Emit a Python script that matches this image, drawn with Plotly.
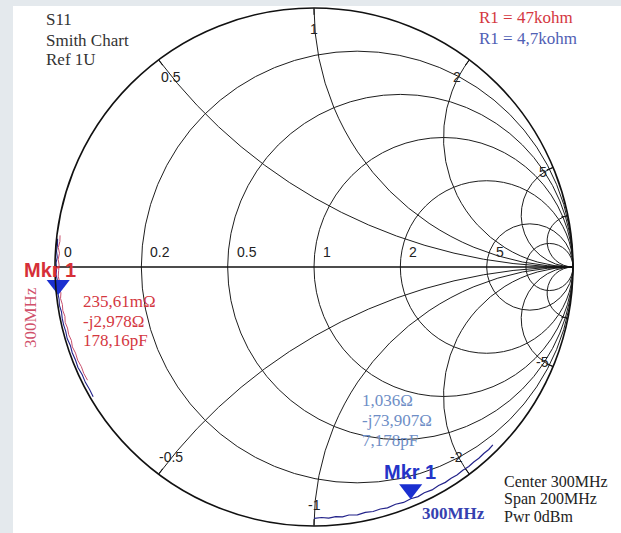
import plotly.graph_objects as go

W, H = 621, 533

# ---------------- data ----------------
# Smith-chart grid values (normalised impedance)
real_grid = [0.2, 0.5, 1, 2, 5, 10]
imag_grid = [-10, -5, -2, -1, -0.5, 0.5, 1, 2, 5, 10]
real_labels = [0, 0.2, 0.5, 1, 2, 5]
imag_labels = [0.5, 1, 2, 5, -5, -2, -1, -0.5]

red_imag = [0.062, 0.050, 0.038, 0.027, 0.015, 0.004, -0.007, -0.018, -0.029, -0.040,
            -0.051, -0.062, -0.074, -0.086, -0.098, -0.110, -0.122, -0.135, -0.148,
            -0.161, -0.175, -0.190, -0.205, -0.220, -0.236]
red_real = [0.006, 0.007, 0.005, 0.008, 0.006, 0.008, 0.007, 0.006, 0.008, 0.006,
            0.009, 0.007, 0.009, 0.008, 0.010, 0.008, 0.010, 0.009, 0.011, 0.009,
            0.011, 0.010, 0.012, 0.011, 0.012]

# overlapping dark-blue copy along the left rim
blueL_imag = [0.055, 0.043, 0.031, 0.019, 0.008, -0.004, -0.015, -0.027, -0.039, -0.051,
              -0.063, -0.075, -0.088, -0.101, -0.114, -0.128, -0.142, -0.157, -0.172,
              -0.188, -0.204, -0.221, -0.238, -0.255, -0.272]
blueL_real = [0.002, 0.003, 0.002, 0.004, 0.002, 0.003, 0.002, 0.004, 0.003, 0.003,
              0.004, 0.003, 0.005, 0.004, 0.004, 0.005, 0.004, 0.006, 0.005, 0.006,
              0.005, 0.007, 0.006, 0.007, 0.006]

# R1 = 4,7 kohm trace along the bottom rim
blue_imag = [-1.00, -1.03, -1.06, -1.09, -1.12, -1.15, -1.19, -1.23, -1.27, -1.31,
             -1.35, -1.40, -1.45, -1.50, -1.55, -1.60, -1.66, -1.72, -1.78, -1.84,
             -1.90, -1.97, -2.04, -2.11, -2.18, -2.26, -2.34, -2.42]
blue_real = [0.030, 0.034, 0.031, 0.036, 0.033, 0.039, 0.035, 0.041, 0.038, 0.043,
             0.040, 0.047, 0.043, 0.050, 0.046, 0.054, 0.050, 0.058, 0.055, 0.062,
             0.060, 0.068, 0.066, 0.074, 0.073, 0.082, 0.080, 0.090]

# marker 1 positions
mkr_red = (0.005, -0.035)
mkr_blue = (0.11, -1.52)

red_values = ["235,61mΩ", "-j2,978Ω", "178,16pF"]
blue_values = ["1,036Ω", "-j73,907Ω", "7,178pF"]
info_lines = ["S11", "Smith Chart", "Ref 1U"]
setup_lines = ["Center 300MHz", "Span 200MHz", "Pwr 0dBm"]

# ---------------- figure ----------------
RED = "#d4373f"
BLUE_DARK = "#23238a"
BLUE_MK = "#1a2fd0"

# chart circle geometry in pixels
CX, CY, R = 314, 267, 259

fig = go.Figure()

fig.add_trace(go.Scattersmith(real=blueL_real, imag=blueL_imag, mode="lines",
                              line=dict(color=BLUE_DARK, width=1.1), showlegend=False))
fig.add_trace(go.Scattersmith(real=red_real, imag=red_imag, mode="lines",
                              line=dict(color="#c8506e", width=1), showlegend=False))
fig.add_trace(go.Scattersmith(real=blue_real, imag=blue_imag, mode="lines",
                              line=dict(color=BLUE_DARK, width=1.2), showlegend=False))
fig.add_trace(go.Scattersmith(real=[mkr_red[0], mkr_blue[0]], imag=[mkr_red[1], mkr_blue[1]],
                              mode="markers",
                              marker=dict(symbol="triangle-down", size=20, color=BLUE_MK,
                                          line=dict(width=0)),
                              showlegend=False))

x0, x1 = (CX - R) / W, (CX + R) / W
y0, y1 = 1 - (CY + R) / H, 1 - (CY - R) / H

fig.update_layout(
    width=W, height=H,
    margin=dict(l=0, r=0, t=0, b=0),
    paper_bgcolor="white",
    showlegend=False,
    smith=dict(
        domain=dict(x=[x0, x1], y=[y0, y1]),
        bgcolor="white",
        realaxis=dict(tickvals=real_grid, showticklabels=False, ticks="",
                      color="#111", gridcolor="#1e1e1e", gridwidth=1.2,
                      linecolor="#111", linewidth=1.3),
        imaginaryaxis=dict(tickvals=imag_grid, showticklabels=False, ticks="inside",
                           ticklen=6, tickcolor="#111", tickwidth=1,
                           color="#111", gridcolor="#1e1e1e", gridwidth=1.2,
                           linecolor="#111", linewidth=1.6),
    ),
)

# light frame bands
fig.add_shape(type="rect", xref="paper", yref="paper", x0=0, x1=13 / W, y0=0, y1=1,
              fillcolor="#e4e9ed", line=dict(width=0), layer="below")
fig.add_shape(type="rect", xref="paper", yref="paper", x0=0, x1=1, y0=1 - 6 / H, y1=1,
              fillcolor="#e4e9ed", line=dict(width=0), layer="below")

SERIF = "Liberation Serif, Times New Roman"
SANS = "Liberation Sans, Arial"


def text(x, y, s, color, size=17, family=SERIF, xanchor="left", angle=0, bold=False):
    fig.add_annotation(x=x / W, y=1 - y / H, xref="paper", yref="paper",
                       text=(f"<b>{s}</b>" if bold else s),
                       showarrow=False, xanchor=xanchor, yanchor="middle", textangle=angle,
                       font=dict(family=family, size=size, color=color))


def fmt(v):
    return f"{v:g}"


# tick labels of the Smith grid, placed from their values
for r in real_labels:
    xc = CX + R * (r - 1) / (r + 1)
    text(xc + 7, CY - 15, fmt(r), "#222222", size=14, family=SANS)
for v in imag_labels:
    gr = (v * v - 1) / (v * v + 1)
    gi = 2 * v / (v * v + 1)
    d = 21 if abs(v) < 5 else 11
    text(CX + (R - d) * gr, CY - (R - d) * gi, fmt(v), "#222222", size=14, family=SANS,
         xanchor="center")

for i, s in enumerate(info_lines):
    text(44, 20 + i * 20, s, "#333333")

text(477, 17, "R1 = 47kohm", RED)
text(477, 38, "R1 = 4,7kohm", "#5060b4")

for i, s in enumerate(red_values):
    text(81, 301 + i * 20, s, RED)
for i, s in enumerate(blue_values):
    text(360, 400 + i * 20, s, "#6e8ec6")
for i, s in enumerate(setup_lines):
    text(502, 481 + i * 17.5, s, "#222222", size=16)

text(22, 270, "Mkr 1", "#d62f38", size=20, family=SANS, bold=True)
text(382, 472, "Mkr 1", "#2434c8", size=20, family=SANS, bold=True)
text(30, 318, "300MHz", "#d0506a", size=17, xanchor="center", angle=-90)
text(420, 513, "300MHz", "#3541b0", size=17, bold=True)

fig.write_html("out.html", config={"displayModeBar": False},
               post_script="document.body.style.margin='0px';")
